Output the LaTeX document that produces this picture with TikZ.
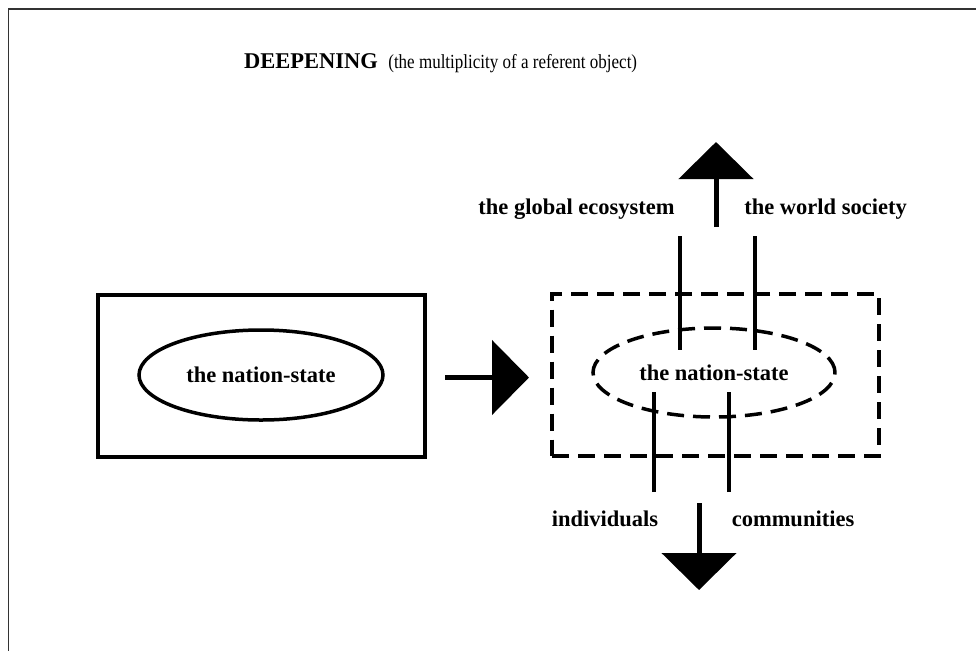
\documentclass[tikz,border=0pt]{standalone}
\usepackage{fontspec}
\setmainfont{Liberation Serif}
\usetikzlibrary{shapes.geometric}
\usetikzlibrary{positioning}
\usetikzlibrary{arrows.meta}

\begin{document}
\begin{tikzpicture}[x=1pt,y=-1pt]
			\tikzset{
				boxnode/.style={rectangle, draw=black, line width=4pt, minimum width=327pt, minimum height=162pt},
				dashbox/.style={boxnode, dash pattern=on 17pt off 9pt},
				ovalnode/.style={ellipse, draw=black, line width=3.5pt, minimum width=244pt, minimum height=90pt, font=\fontsize{22.5}{26}\selectfont\bfseries},
				dashoval/.style={ovalnode, dash pattern=on 17pt off 9pt},
				labelnode/.style={font=\fontsize{22.5}{26}\selectfont\bfseries, inner sep=0pt},
				bar/.style={line width=3.5pt},
				bigarrow/.style={line width=5pt, -{Triangle[length=37pt, width=74pt]}},
			}
			\useasboundingbox (0,0) rectangle (976,651);
			% frame of the page
			\draw[line width=1.5pt, black!80] (976,9) -- (8.5,9) -- (8.5,651);

			\node[font=\fontsize{22.5}{26}\selectfont\bfseries, inner sep=0pt, anchor=base west] (deep) at (244,68) {DEEPENING};
			\node[font=\fontsize{20}{24}\selectfont, inner sep=0pt, anchor=base west, xscale=0.85, transform shape] (deepnote) at ([xshift=10pt]deep.base east) {(the multiplicity of a referent object)};

			% before
			\node[boxnode] (oldbox) at (261.5,375.5) {};
			\node[ovalnode] (oldstate) at (261,375) {the nation-state};

			% after
			\node[dashbox] (newbox) at (715.5,374.5) {};
			\node[dashoval, minimum width=242pt, minimum height=89pt] (newstate) at (714,372.5) {the nation-state};

			\node[labelnode] (global) at (576.5,209) {the global ecosystem};
			\node[labelnode] (world) at (825.5,209) {the world society};
			\node[labelnode] (indiv) at (605,519) {individuals};
			\node[labelnode] (comm) at (793,519) {communities};

			\coordinate (upA) at (680,236);
			\coordinate (upB) at (755,236);
			\coordinate (downA) at (654,492);
			\coordinate (downB) at (729,492);

			\draw[bar] (upA) -- ++(0,114);
			\draw[bar] (upB) -- ++(0,114);
			\draw[bar] (downA) -- ++(0,-100);
			\draw[bar] (downB) -- ++(0,-100);

			% the three arrows
			\draw[bigarrow] (oldbox.east) ++(18,2) coordinate (shift) -- ++(84,0);
			\coordinate (upfoot) at (716,227);
			\draw[bigarrow] (upfoot) -- ++(0,-85);
			\coordinate (downfoot) at (699,503);
			\draw[bigarrow] (downfoot) -- ++(0,87);
		\end{tikzpicture}
\end{document}
